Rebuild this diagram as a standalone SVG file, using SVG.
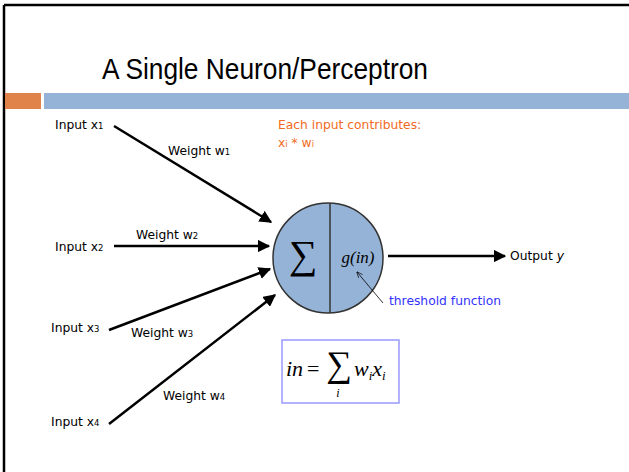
<svg xmlns="http://www.w3.org/2000/svg" width="629" height="472" viewBox="0 0 629 472">
<style>
.lbl{font-family:"DejaVu Sans","Liberation Sans",sans-serif;font-size:12.3px;fill:#000}
.sm{font-size:8.5px}
.org{font-family:"DejaVu Sans","Liberation Sans",sans-serif;font-size:12.3px;fill:#F26B1D}
.math{font-family:"Liberation Serif","Times New Roman",serif;font-style:italic;fill:#000}
.edge{stroke:#000;stroke-width:2.5;fill:none}
</style>
<defs>
<marker id="ah" viewBox="0 0 10 10" refX="9" refY="5" markerWidth="5" markerHeight="5" orient="auto" markerUnits="strokeWidth">
<path d="M0,0 L10,5 L0,10 z" fill="#000"/>
</marker>
<marker id="open" viewBox="0 0 10 10" refX="9" refY="5" markerWidth="8" markerHeight="8" orient="auto" markerUnits="strokeWidth">
<path d="M0,1 L10,5 L0,9" fill="none" stroke="#000" stroke-width="1"/>
</marker>
</defs>
<rect width="629" height="472" fill="#fff"/>
<g id="frame">
<line x1="4" y1="5" x2="4" y2="472" stroke="#000" stroke-width="2.5"/>
<line x1="4" y1="5" x2="629" y2="5" stroke="#000" stroke-width="2.5"/>
<rect x="5" y="93" width="36" height="16" fill="#E0834A"/>
<rect x="44" y="93" width="585" height="16" fill="#95B3D7"/>
</g>
<text id="title" x="265" y="79" text-anchor="middle" font-family="'Liberation Sans',Arial,sans-serif" font-size="30" textLength="326" lengthAdjust="spacingAndGlyphs">A Single Neuron/Perceptron</text>
<g id="neuron">
<circle cx="328" cy="258" r="55" fill="#95B3D7" stroke="#333" stroke-width="1.5"/>
<line x1="330" y1="203" x2="330" y2="313" stroke="#333" stroke-width="1.5"/>
<text x="303" y="268" text-anchor="middle" font-family="'Liberation Serif','Times New Roman',serif" font-size="40">∑</text>
<text class="math" x="358" y="263" text-anchor="middle" font-size="17">g(in)</text>
</g>
<g id="connectors">
<line class="edge" x1="114" y1="126" x2="271" y2="222" marker-end="url(#ah)"/>
<line class="edge" x1="114" y1="246" x2="269" y2="246" marker-end="url(#ah)"/>
<line class="edge" x1="109" y1="330" x2="270" y2="269" marker-end="url(#ah)"/>
<line class="edge" x1="109" y1="424" x2="275" y2="295" marker-end="url(#ah)"/>
<line class="edge" x1="388" y1="256" x2="505" y2="256" marker-end="url(#ah)"/>
<line x1="383" y1="303" x2="357" y2="272" stroke="#000" stroke-width="0.8" marker-end="url(#open)"/>
</g>
<g id="inputs">
<text class="lbl" x="55" y="129">Input x<tspan class="sm">1</tspan></text>
<text class="lbl" x="55" y="251">Input x<tspan class="sm">2</tspan></text>
<text class="lbl" x="51" y="332">Input x<tspan class="sm">3</tspan></text>
<text class="lbl" x="51" y="426">Input x<tspan class="sm">4</tspan></text>
</g>
<g id="weights">
<text class="lbl" x="168" y="155">Weight w<tspan class="sm">1</tspan></text>
<text class="lbl" x="136" y="239">Weight w<tspan class="sm">2</tspan></text>
<text class="lbl" x="131" y="337">Weight w<tspan class="sm">3</tspan></text>
<text class="lbl" x="163" y="400">Weight w<tspan class="sm">4</tspan></text>
</g>
<g id="note">
<text class="org" x="278" y="129">Each input contributes:</text>
<text class="org" x="278" y="147">x<tspan class="sm">i</tspan> * w<tspan class="sm">i</tspan></text>
</g>
<g id="output">
<text class="lbl" x="510" y="260">Output <tspan font-style="italic">y</tspan></text>
</g>
<g id="threshold">
<text x="389" y="305" font-family="'DejaVu Sans','Liberation Sans',sans-serif" font-size="12.3" fill="#3333FF">threshold function</text>
</g>
<g id="formula">
<rect x="282" y="340" width="117" height="63" fill="#fff" stroke="#9999FF" stroke-width="1.5"/>
<text class="math" x="286" y="376" font-size="22">in</text>
<text x="307" y="376" font-family="'Liberation Serif','Times New Roman',serif" font-size="22">=</text>
<text x="339" y="376" text-anchor="middle" font-family="'Liberation Serif','Times New Roman',serif" font-size="36">∑</text>
<text class="math" x="338" y="397" text-anchor="middle" font-size="12">i</text>
<text class="math" x="354" y="376" font-size="22">w<tspan font-size="13" dy="4">i</tspan><tspan dy="-4">x</tspan><tspan font-size="13" dy="4">i</tspan></text>
</g>
</svg>
